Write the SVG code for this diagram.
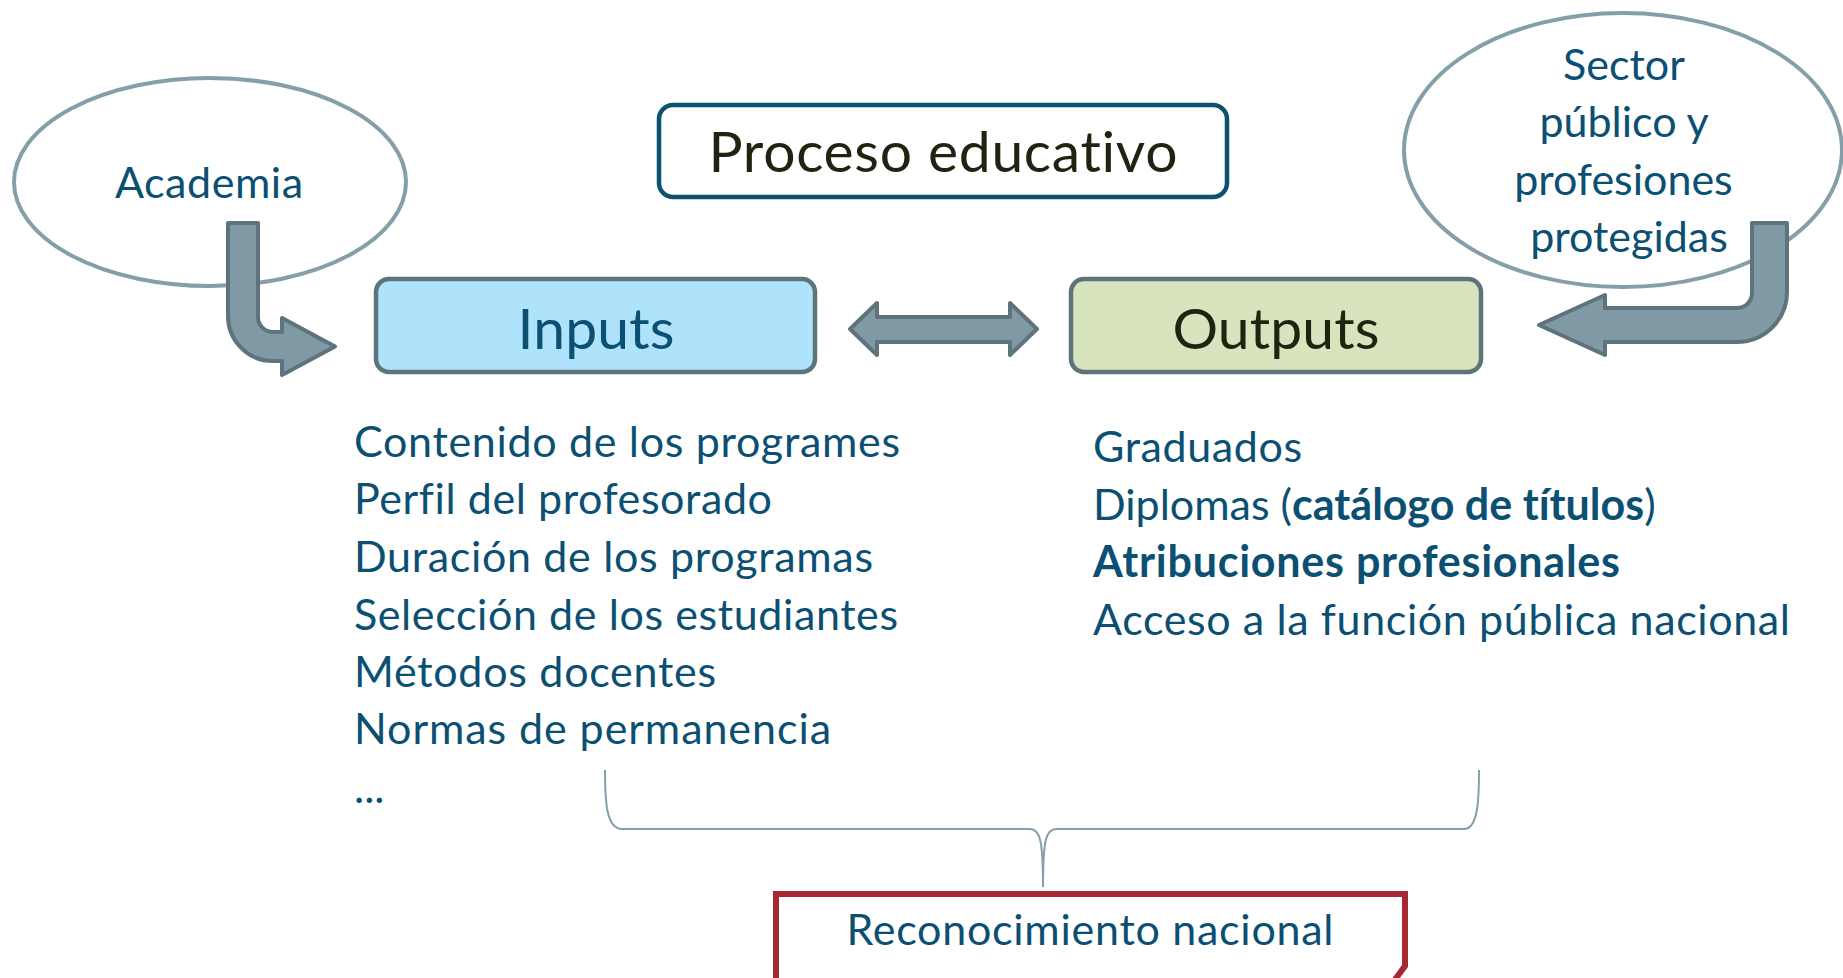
<svg xmlns="http://www.w3.org/2000/svg" width="1843" height="978" viewBox="0 0 1843 978">
<style>
text{font-family:Lato,"Open Sans","Liberation Sans",sans-serif;font-variant-ligatures:none;font-feature-settings:"liga" 0,"dlig" 0;}
.blue{fill:#0b5073;}
.dark{fill:#1d2410;}
.list{font-size:43px;fill:#0b5073;}
.oval{fill:#ffffff;stroke:#859fa9;stroke-width:4;}
.bent{fill:#7f9aa5;stroke:#5e737b;stroke-width:4;stroke-linejoin:round;}
.box{stroke:#5f737b;stroke-width:4.5;}
</style>
<rect width="1843" height="978" fill="#ffffff"/>
<g id="academia">
<ellipse class="oval" cx="210" cy="182" rx="196" ry="104"/>
<text x="209" y="198" font-size="43" text-anchor="middle" class="blue" textLength="188">Academia</text>
</g>
<g id="sector">
<ellipse class="oval" cx="1623" cy="150" rx="219" ry="137"/>
<text font-size="43" text-anchor="middle" class="blue">
<tspan x="1629" y="80">Sector</tspan>
<tspan x="1629" y="137">público y</tspan>
<tspan x="1629" y="195">profesiones</tspan>
<tspan x="1629" y="252">protegidas</tspan>
</text>
</g>
<g id="proceso">
<rect x="659" y="105" width="568" height="92" rx="14" fill="#ffffff" stroke="#0c5170" stroke-width="4.5"/>
<text x="943" y="172" font-size="57" text-anchor="middle" class="dark" textLength="469">Proceso educativo</text>
</g>
<g id="inputs">
<rect class="box" x="376" y="279" width="439" height="93" rx="13" fill="#aee3fb"/>
<text x="596" y="349" font-size="57" text-anchor="middle" class="blue" textLength="157">Inputs</text>
</g>
<g id="outputs">
<rect class="box" x="1071" y="279" width="410" height="93" rx="13" fill="#d8e4bd"/>
<text x="1276" y="349" font-size="57" text-anchor="middle" class="dark" textLength="207">Outputs</text>
</g>
<g id="connectors">
<path class="bent" d="M228,223 L258,223 L258,317 A15,15 0 0 0 273,332 L282,332 L282,318 L335,346.5 L282,375 L282,361 L273,361 A45,45 0 0 1 228,316 Z"/>
<path class="bent" d="M1752,223 L1787,223 L1787,292 A50,50 0 0 1 1737,342 L1605,342 L1605,355 L1539,325 L1605,295 L1605,308 L1737,308 A15,15 0 0 0 1752,293 Z"/>
<path class="bent" d="M850,329 L877,303 L877,317 L1010,317 L1010,303 L1037,329 L1010,355 L1010,342 L877,342 L877,355 Z"/>
<path d="M605,770 C605,800 606,829 622,829 L1030,829 C1040,829 1043,840 1043,887 C1043,840 1046,829 1056,829 L1464,829 C1478,829 1479,800 1479,770" fill="none" stroke="#859fa9" stroke-width="2"/>
</g>
<g id="inputs-list">
<text class="list" x="354" y="457" textLength="546">Contenido de los programes</text>
<text class="list" x="354" y="514" textLength="418">Perfil del profesorado</text>
<text class="list" x="354" y="572" textLength="519">Duración de los programas</text>
<text class="list" x="354" y="630" textLength="544">Selección de los estudiantes</text>
<text class="list" x="354" y="687" textLength="362">Métodos docentes</text>
<text class="list" x="354" y="744" textLength="477">Normas de permanencia</text>
<text class="list" x="354" y="803">...</text>
</g>
<g id="outputs-list">
<text class="list" x="1093" y="462" textLength="209">Graduados</text>
<text class="list" x="1093" y="520">Diplomas (<tspan font-weight="bold">catálogo de títulos</tspan>)</text>
<text class="list" x="1093" y="577" font-weight="bold" textLength="527">Atribuciones profesionales</text>
<text class="list" x="1093" y="635" textLength="697">Acceso a la función pública nacional</text>
</g>
<g id="reconocimiento">
<path d="M776,985 L776,894 L1405,894 L1405,966 L1391,985" fill="#ffffff" stroke="#a52a36" stroke-width="6"/>
<text x="1090" y="945" font-size="43" text-anchor="middle" class="blue" textLength="487">Reconocimiento nacional</text>
</g>
</svg>
